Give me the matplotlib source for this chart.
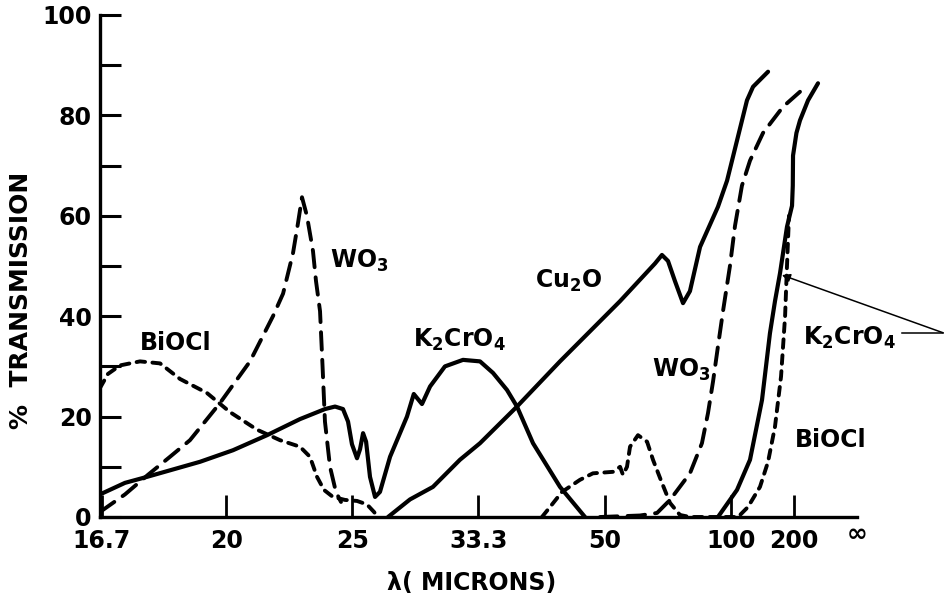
import numpy as np
import matplotlib
matplotlib.use("Agg")
import matplotlib.pyplot as plt

plt.rcParams['font.family'] = ['DejaVu Sans']
plt.rcParams['font.weight'] = 'bold'
plt.rcParams['mathtext.default'] = 'regular'

# x axis is linear in wavenumber (cm^-1), labelled in microns
tick_microns = [16.7, 20, 25, 33.3, 50, 100, 200]
tick_labels = ['16.7', '20', '25', '33.3', '50', '100', '200']

# BiOCl (short dashes)
bioc_a_nu = [600.0, 593.7, 584.1, 568.3, 552.4, 536.6, 515.2, 497.0, 475.6, 457.3,
             441.5, 433.6, 428.0, 422.5, 415.4, 405.8, 396.3, 388.4, 382.8, 379.7]
bioc_a_t = [25.7, 28.5, 30.2, 31.0, 30.6, 27.5, 24.7, 20.9, 17.4, 15.3,
            14.0, 12.0, 8.0, 5.4, 4.0, 3.4, 3.2, 2.5, 1.0, 0.0]
bioc_b_nu = [249.7, 243.3, 233.8, 219.6, 209.3, 193.4, 187.8, 185.5, 182.3, 179.9,
             173.6, 166.4, 161.7, 154.6, 148.2, 140.3, 132.4, 94.3, 86.4, 76.9,
             70.5, 65.0, 60.2, 57.0, 55.5, 53.9]
bioc_b_t = [0.0, 2.0, 5.0, 7.4, 8.7, 9.0, 10.0, 8.4, 10.0, 14.0,
            16.3, 15.0, 11.4, 6.8, 2.8, 0.4, 0.0, 0.0, 2.0, 6.0,
            11.0, 18.0, 28.0, 40.0, 50.0, 60.0]

# WO3 (long dashes)
wo3_a_nu = [600.0, 580.2, 562.0, 544.5, 528.7, 504.9, 481.1, 462.9, 454.9, 447.0,
            443.1, 439.9, 436.0, 431.2, 428.8, 425.6, 423.6, 421.7, 417.7, 413.0, 409.0]
wo3_a_t = [1.0, 4.5, 8.4, 12.0, 15.3, 22.7, 31.0, 40.0, 44.5, 52.6,
           58.5, 63.7, 60.0, 53.0, 47.0, 41.0, 30.0, 19.0, 10.0, 5.0, 3.0]
wo3_b_nu = [203.7, 172.0, 158.5, 148.2, 132.4, 122.9, 118.1, 114.1, 110.2, 106.2,
            100.7, 96.7, 91.2, 84.8, 74.5, 58.7, 41.2]
wo3_b_t = [0.0, 0.3, 0.8, 3.4, 8.7, 14.7, 20.7, 27.0, 34.0, 41.0,
           50.0, 58.0, 66.0, 71.0, 76.5, 81.7, 85.6]

# Cu2O (solid)
cu2o_nu = [371.7, 354.3, 336.1, 314.7, 298.8, 269.5, 235.4, 187.8, 160.1, 154.6,
           149.8, 144.3, 137.9, 132.4, 124.4, 110.2, 103.0, 95.1, 87.2, 82.4, 70.5]
cu2o_t = [0.0, 3.5, 6.0, 11.4, 14.7, 22.0, 31.0, 43.0, 50.5, 52.2,
          51.0, 47.0, 42.6, 45.0, 53.8, 61.8, 67.0, 75.0, 83.0, 85.7, 88.7]

# K2CrO4 (solid)
k2cro4_a_nu = [600.0, 580.2, 562.7, 520.7, 494.6, 467.6, 441.5, 421.7, 413.7, 407.4,
               403.4, 400.3, 396.3, 393.9, 391.5, 389.1, 386.0, 382.0, 378.1, 370.1,
               356.7, 351.3, 344.8, 338.4, 326.6, 312.3, 298.8, 288.5, 277.4, 269.5,
               256.8, 235.4, 215.6]
k2cro4_a_t = [4.5, 6.8, 8.0, 11.0, 13.3, 16.3, 19.5, 21.5, 22.0, 21.5,
              19.0, 14.5, 11.7, 13.5, 16.7, 15.0, 8.0, 4.0, 5.0, 12.0,
              20.0, 24.5, 22.5, 26.0, 30.0, 31.3, 31.0, 28.7, 25.3, 22.0,
              14.7, 6.0, 0.0]
k2cro4_b_nu = [110.2, 95.1, 84.8, 75.3, 69.0, 65.0, 61.0, 55.5, 51.5, 50.9,
               50.7, 48.0, 45.2, 38.8, 30.9]
k2cro4_b_t = [0.0, 5.4, 11.4, 23.3, 36.6, 43.0, 48.6, 57.8, 62.0, 66.0,
              72.0, 76.5, 79.0, 83.0, 86.4]

long_dash = (0, (4.5, 2.6))
short_dash = (0, (2.2, 1.9))

fig = plt.figure(figsize=(9.44, 6.10), dpi=100)
ax = fig.add_axes([100 / 944, 93 / 610, 757 / 944, 502 / 610])

solid = dict(color='black', lw=3.0, solid_capstyle='round', solid_joinstyle='round')
dashed = dict(color='black', lw=2.8, dash_capstyle='round', dash_joinstyle='round')
ax.plot(k2cro4_a_nu, k2cro4_a_t, **solid)
ax.plot(k2cro4_b_nu, k2cro4_b_t, **solid)
ax.plot(cu2o_nu, cu2o_t, **solid)
ax.plot(wo3_a_nu, wo3_a_t, ls=long_dash, **dashed)
ax.plot(wo3_b_nu, wo3_b_t, ls=long_dash, **dashed)
ax.plot(bioc_a_nu, bioc_a_t, ls=short_dash, **dashed)
ax.plot(bioc_b_nu, bioc_b_t, ls=short_dash, **dashed)

ax.set_xlim(600, 0)
ax.set_ylim(0, 100)
ax.spines['top'].set_visible(False)
ax.spines['right'].set_visible(False)
ax.spines['left'].set_linewidth(2.4)
ax.spines['bottom'].set_linewidth(2.4)

ax.set_xticks([1e4 / m for m in tick_microns])
ax.set_xticklabels(tick_labels)
ax.set_yticks(np.arange(0, 101, 20))
ax.set_yticks(np.arange(10, 100, 20), minor=True)
ax.tick_params(axis='x', direction='in', length=16, width=2, pad=9, labelsize=17)
ax.tick_params(axis='y', which='both', direction='in', length=15, width=2.2, pad=6, labelsize=17)
ax.text(0, -3.4, '∞', ha='center', va='center', fontsize=18, clip_on=False)

fs = 17
ax.text(568.3, 33.3, 'BiOCl', fontsize=fs, ha='left', va='baseline')
ax.text(417.7, 49.6, 'WO$_3$', fontsize=fs, ha='left', va='baseline')
ax.text(351.9, 33.9, 'K$_2$CrO$_4$', fontsize=fs, ha='left', va='baseline')
ax.text(255.2, 45.6, 'Cu$_2$O', fontsize=fs, ha='left', va='baseline')
ax.text(162.5, 27.9, 'WO$_3$', fontsize=fs, ha='left', va='baseline')
ax.text(42.8, 34.3, 'K$_2$CrO$_4$', fontsize=fs, ha='left', va='baseline', clip_on=False)
ax.text(49.1, 13.9, 'BiOCl', fontsize=fs, ha='left', va='baseline')

# callout from right K2CrO4 label to its curve
ax.plot([-36.0, -68.2], [36.7, 36.7], color='black', lw=1.1, clip_on=False)
ax.annotate('', xy=(59.5, 48.2), xytext=(-68.2, 36.7), annotation_clip=False,
            arrowprops=dict(arrowstyle='-|>', color='black', lw=1.1,
                            mutation_scale=12, shrinkA=0, shrinkB=0))

fig.text(21 / 944, 1 - 300 / 610, '%  TRANSMISSION', rotation=90, ha='center', va='center', fontsize=18)
fig.text(472 / 944, 1 - 583 / 610, 'λ( MICRONS)', ha='center', va='center', fontsize=17)

fig.savefig('out.png', dpi=100)
